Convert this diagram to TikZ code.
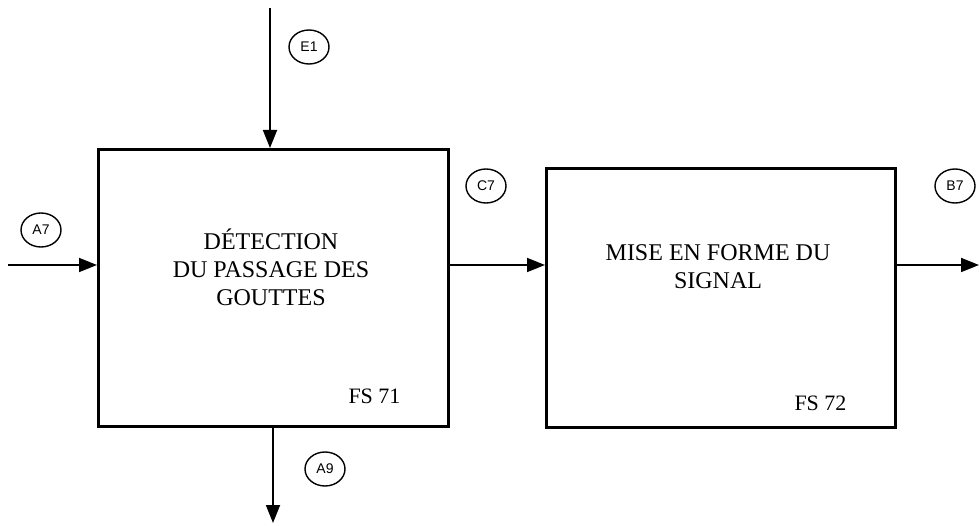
\documentclass[tikz,border=0pt]{standalone}
\usepackage{fontspec}
\setmainfont{Liberation Serif}
\newfontfamily\lblfont{Liberation Sans}
\usetikzlibrary{arrows.meta,shapes.geometric}
\begin{document}
\begin{tikzpicture}[x=1pt,y=-1pt,
  fbox/.style={draw,line width=3pt,inner sep=0pt},
  flow/.style={line width=1.8pt,-{Triangle[length=18pt,width=14pt]}},
  tag/.style={draw,ellipse,line width=1.4pt,minimum width=40pt,minimum height=34pt,inner sep=0pt,font=\lblfont\fontsize{14}{16}\selectfont},
  btext/.style={align=center,font=\fontsize{24}{28}\selectfont},
  fsl/.style={font=\fontsize{22}{26}\selectfont}]
\useasboundingbox (0,0) rectangle (979,526);
\node[fbox,minimum width=350pt,minimum height=277pt,anchor=north west] (b1) at (97,148) {};
\node[fbox,minimum width=349pt,minimum height=259pt,anchor=north west] (b2) at (545,167) {};
\node[btext] (t1) at (271,267) {DÉTECTION\\DU PASSAGE DES\\GOUTTES};
\node[btext] (t2) at (718,267) {MISE EN FORME DU\\SIGNAL};
\node[fsl,anchor=base east] (fs1) at (404,403) {FS 71};
\node[fsl,anchor=base east] (fs2) at (850,410) {FS 72};
\coordinate (e1s) at (270,8);
\coordinate (a7s) at (8,265);
\coordinate (b7e) at (979,265);
\coordinate (a9e) at (273,523);
\draw[flow] (e1s) -- (e1s |- b1.north);
\draw[flow] (a7s) -- (a7s -| b1.west);
\draw[flow] (b1.east |- 0,265) -- (b2.west |- 0,265);
\draw[flow] (b2.east |- b7e) -- (b7e);
\draw[flow] (a9e |- b1.south) -- (a9e);
\node[tag] (e1) at (309,47) {E1};
\node[tag] (a7) at (41,230) {A7};
\node[tag] (c7) at (486,186) {C7};
\node[tag] (b7) at (955,186) {B7};
\node[tag] (a9) at (325,469) {A9};
\end{tikzpicture}
\end{document}
